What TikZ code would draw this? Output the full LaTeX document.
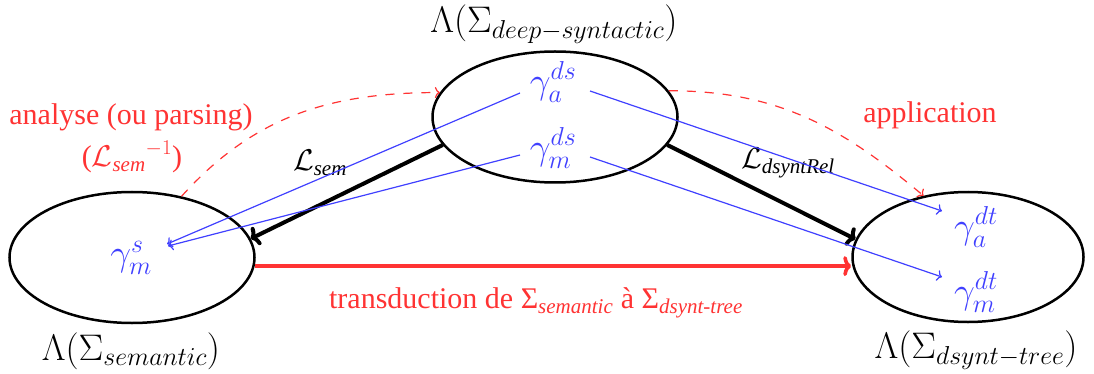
\RequirePackage{fix-cm}
\documentclass[tikz,border=0pt]{standalone}
\usepackage{amsmath}
\usepackage{fontspec}
\setmainfont{Liberation Serif}
\newfontfamily\tms{Liberation Serif}
\usetikzlibrary{shapes.geometric,arrows.meta}
\definecolor{myred}{RGB}{255,51,51}
\definecolor{myblue}{RGB}{64,64,255}
\begin{document}
\begin{tikzpicture}[x=1pt,y=-1pt,
  ell/.style={ellipse, draw, line width=2.5pt, inner sep=0pt},
  mlab/.style={font=\fontsize{37}{41}\selectfont, inner sep=0pt},
  tlab/.style={font=\fontsize{30}{34}\selectfont\tms, inner sep=0pt},
  gam/.style={mlab, text=myblue},
  bl/.style={myblue, line width=1.2pt, -{To[length=5pt,width=11pt]}},
  blk/.style={black, line width=4pt, -{To[length=8pt,width=20pt]}},
  rd/.style={myred, line width=3.6pt, -{To[length=8pt,width=20pt]}},
  dsh/.style={myred, line width=1.2pt, dash pattern=on 9pt off 9pt, -{To[length=5pt,width=11pt]}}
]
\path[use as bounding box] (0,0) rectangle (1094,374);

\node[ell, minimum width=245pt, minimum height=131pt] (T) at (555,117) {};
\node[ell, minimum width=245pt, minimum height=131pt] (L) at (132,257.5) {};
\node[ell, minimum width=231pt, minimum height=130pt] (R) at (968,257) {};

\node[mlab] (lT) at (554,24) {$\Lambda(\Sigma_{deep-syntactic})$};
\node[mlab] (lL) at (131,351) {$\Lambda(\Sigma_{semantic})$};
\node[mlab] (lR) at (976,350) {$\Lambda(\Sigma_{dsynt-tree})$};

\node[gam] (gads) at (553,82) {$\gamma_a^{ds}$};
\node[gam] (gmds) at (553,148) {$\gamma_m^{ds}$};
\node[gam] (gms) at (131,258) {$\gamma_m^{s}$};
\node[gam] (gadt) at (976,227) {$\gamma_a^{dt}$};
\node[gam] (gmdt) at (976,292) {$\gamma_m^{dt}$};

\node[tlab, text=myred] (an) at (131,117) {analyse (ou parsing)};
\node[tlab, text=myred] (anl) at (132,157) {(${\mathcal{L}_{\textit{sem}}}^{-1}$)};
\node[tlab, text=myred] (ap) at (930,115) {application};
\node[tlab] (ls) at (320,163) {$\mathcal{L}_{\textit{sem}}$};
\node[tlab] (ld) at (788,163) {$\mathcal{L}_{\textit{dsyntRel}}$};
\node[tlab, text=myred] (tr) at (536,303) {transduction de Σ$_{\textit{semantic}}$ à Σ$_{\textit{dsynt-tree}}$};

\draw[blk] (T.194) -- (L.9);
\draw[blk] (T.346) -- (R.171);
\draw[rd] (L.-4) -- (L.-4 -| R.west);

\draw[bl] ([shift={(-33,11)}]gads.center) -- ([shift={(36,-14)}]gms.center);
\draw[bl] ([shift={(-33,7)}]gmds.center) -- ([shift={(37,-12)}]gms.center);
\draw[bl] ([shift={(37,9)}]gads.center) -- ([shift={(-34,-16)}]gadt.center);
\draw[bl] ([shift={(37,9)}]gmds.center) -- ([shift={(-34,-15)}]gmdt.center);

\draw[dsh] (L.51) to[out=48,in=180] (T.168);
\draw[dsh] (T.13) to[out=0,in=140] (R.126);
\end{tikzpicture}
\end{document}
